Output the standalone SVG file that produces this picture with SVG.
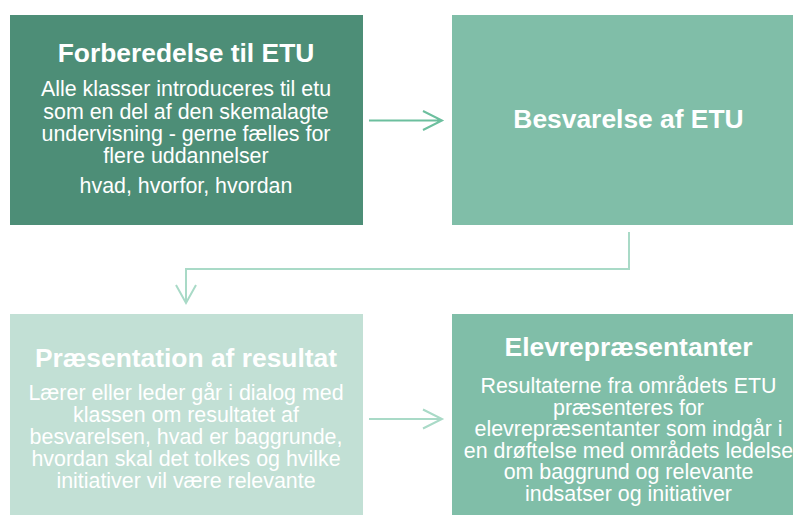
<svg xmlns="http://www.w3.org/2000/svg" width="793" height="515" viewBox="0 0 793 515">
<style>
.t{font-family:"Liberation Sans",Arial,sans-serif;font-weight:bold;font-size:26.4px;fill:#fff;text-anchor:middle}
.b{font-family:"Liberation Sans",Arial,sans-serif;font-size:21.4px;fill:#fff;text-anchor:middle}
.c1{fill:none;stroke:#6CBF9E;stroke-width:2}
.c2{fill:none;stroke:#A9DAC7;stroke-width:2}
</style>
<rect width="793" height="515" fill="#fff"/>
<g id="n1">
<rect x="10" y="15" width="353" height="210" fill="#4D8E77"/>
<text class="t" x="186" y="62">Forberedelse til ETU</text>
<text class="b" x="186" y="96">Alle klasser introduceres til etu</text>
<text class="b" x="186" y="118.5">som en del af den skemalagte</text>
<text class="b" x="186" y="141">undervisning - gerne fælles for</text>
<text class="b" x="186" y="163">flere uddannelser</text>
<text class="b" x="186" y="193">hvad, hvorfor, hvordan</text>
</g>
<g id="n2">
<rect x="452" y="15" width="353" height="210" fill="#80BEA8"/>
<text class="t" x="628.5" y="128">Besvarelse af ETU</text>
</g>
<g id="n3">
<rect x="10" y="314" width="353" height="210" fill="#C2E0D5"/>
<text class="t" x="186" y="367">Præsentation af resultat</text>
<text class="b" x="186" y="400">Lærer eller leder går i dialog med</text>
<text class="b" x="186" y="422">klassen om resultatet af</text>
<text class="b" x="186" y="444">besvarelsen, hvad er baggrunde,</text>
<text class="b" x="186" y="466">hvordan skal det tolkes og hvilke</text>
<text class="b" x="186" y="487.5">initiativer vil være relevante</text>
</g>
<g id="n4">
<rect x="452" y="314" width="353" height="210" fill="#80BEA8"/>
<text class="t" x="628.5" y="356">Elevrepræsentanter</text>
<text class="b" x="628.5" y="393">Resultaterne fra områdets ETU</text>
<text class="b" x="628.5" y="414.5">præsenteres for</text>
<text class="b" x="628.5" y="436">elevrepræsentanter som indgår i</text>
<text class="b" x="628.5" y="457.5">en drøftelse med områdets ledelse</text>
<text class="b" x="628.5" y="479">om baggrund og relevante</text>
<text class="b" x="628.5" y="500.5">indsatser og initiativer</text>
</g>
<g id="connectors">
<path class="c1" d="M369 120.5H442M423 111L442 120.5L423 130"/>
<path class="c2" d="M629 232V269H186V303M176 285L186 303L196 285"/>
<path class="c2" d="M369 419H442M423 409.5L442 419L423 428.5"/>
</g>
</svg>
